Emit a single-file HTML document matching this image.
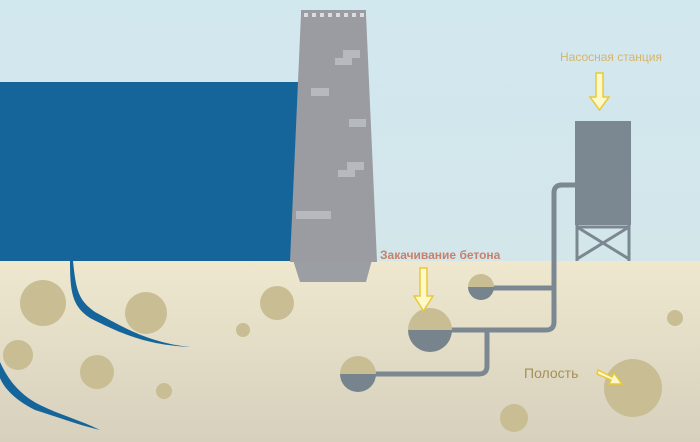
<!DOCTYPE html><html><head><style>body{margin:0}svg{display:block}</style></head><body>
<svg width="700" height="442" viewBox="0 0 700 442" xmlns="http://www.w3.org/2000/svg">
<defs>
<linearGradient id="g" x1="0" y1="0" x2="0" y2="1"><stop offset="0" stop-color="#efe8cf"/><stop offset="1" stop-color="#d6d0bd"/></linearGradient>
<linearGradient id="s" x1="0" y1="0" x2="0" y2="1"><stop offset="0" stop-color="#d2e8ef"/><stop offset="1" stop-color="#d3e6ea"/></linearGradient>
</defs>
<rect width="700" height="262" fill="url(#s)"/>
<rect x="0" y="82" width="298" height="180" fill="#16659a"/>
<rect y="261" width="700" height="181" fill="url(#g)"/>
<!-- water cracks -->
<path d="M73 261 C76 290 78 300 95 312 C120 325 145 342 190 347 C150 345 125 336 90 318 C72 306 70 292 70 261Z" fill="#16659a"/>
<path d="M0 362 C8 380 20 395 40 405 C60 415 80 420 100 430 C75 424 55 416 35 410 C15 400 4 388 0 378Z" fill="#16659a"/>
<!-- circles -->
<g fill="#c9bd94">
<circle cx="43" cy="303" r="23"/><circle cx="146" cy="313" r="21"/><circle cx="18" cy="355" r="15"/>
<circle cx="97" cy="372" r="17"/><circle cx="164" cy="391" r="8"/><circle cx="243" cy="330" r="7"/>
<circle cx="277" cy="303" r="17"/><circle cx="633" cy="388" r="29"/><circle cx="675" cy="318" r="8"/>
<circle cx="514" cy="418" r="14"/>
</g>
<!-- tower -->
<polygon points="293,260 372,260 366,282 300,282" fill="#9b9ea3"/>
<polygon points="301,14 366,14 377,262 290,262" fill="#9a9ca1"/>
<rect x="301" y="10" width="65" height="10" fill="#9a9ca1"/>
<g fill="#d9dde2"><rect x="304" y="13" width="4" height="4"/><rect x="312" y="13" width="4" height="4"/><rect x="320" y="13" width="4" height="4"/><rect x="328" y="13" width="4" height="4"/><rect x="336" y="13" width="4" height="4"/><rect x="344" y="13" width="4" height="4"/><rect x="352" y="13" width="4" height="4"/><rect x="360" y="13" width="4" height="4"/></g>
<g fill="#b6b9be"><rect x="343" y="50" width="17" height="8"/><rect x="335" y="58" width="17" height="7"/><rect x="311" y="88" width="18" height="8"/><rect x="349" y="119" width="17" height="8"/><rect x="347" y="162" width="17" height="8"/><rect x="338" y="170" width="17" height="7"/><rect x="296" y="211" width="35" height="8"/></g>
<!-- pipes -->
<g fill="none" stroke="#7b8891" stroke-width="5">
<path d="M577 185 H562 Q554 185 554 193 V322 Q554 330 546 330 H430"/>
<path d="M481 288 H554"/>
<path d="M487 330 V366 Q487 374 479 374 H358"/>
</g>
<!-- cavities -->
<g>
<path d="M468 287 A13 13 0 0 1 494 287Z" fill="#c9bd94"/><path d="M468 287 A13 13 0 0 0 494 287Z" fill="#77838d"/>
<path d="M408 330 A22 22 0 0 1 452 330Z" fill="#c9bd94"/><path d="M408 330 A22 22 0 0 0 452 330Z" fill="#77838d"/>
<path d="M340 374 A18 18 0 0 1 376 374Z" fill="#c9bd94"/><path d="M340 374 A18 18 0 0 0 376 374Z" fill="#77838d"/>
</g>
<!-- pump station -->
<rect x="575" y="121" width="56" height="104" fill="#7b8891"/>
<g fill="none" stroke="#7b8891" stroke-width="3"><path d="M577 225 V261 M629 225 V261 M577 227 H629 M577 227 L629 259 M629 227 L577 259"/></g>
<!-- labels -->
<g font-family="Liberation Sans, sans-serif">
<text x="611" y="61" font-size="12" fill="#d7b46a" text-anchor="middle">Насосная станция</text>
<text x="380" y="259" font-size="12" font-weight="bold" fill="#c9806a">Закачивание бетона</text>
<text x="524" y="378" font-size="14" fill="#a58f55">Полость</text>
</g>
<g fill="#fff8c8" stroke="#e8c93a" stroke-width="1.5">
<path d="M596 73 H603 V97 H609 L599.5 110 L590 97 H596Z"/>
<path d="M420 268 H427 V296 H433 L423.5 311 L414 296 H420Z"/>
<path d="M598 370 L612 377 L614 373 L622 384 L609 384 L611 380 L597 374Z"/>
</g>
</svg>
</body></html>
